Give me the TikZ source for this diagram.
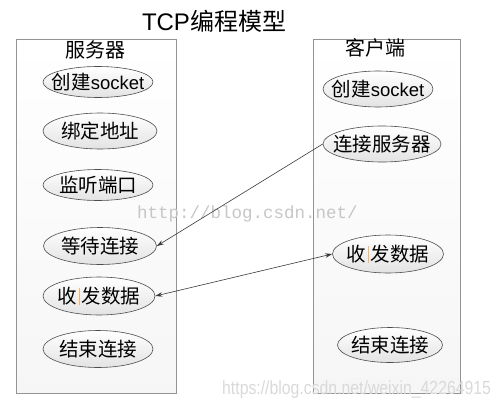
\documentclass[tikz,border=0pt]{standalone}
\usepackage{fontspec}
\setmainfont{Liberation Sans}
\newfontfamily\cjk{Noto Sans CJK SC}
\newfontfamily\wmmono{Liberation Mono}
\usetikzlibrary{shapes.geometric,arrows.meta}
\newcommand\zc[1]{\makebox[0pt]{#1}}
\newcommand\sepbar{\hspace{2pt}\textcolor{orange!60}{\rule[-2pt]{0.8pt}{17pt}}\hspace{2pt}}
\begin{document}
\begin{tikzpicture}[x=1pt,y=-1pt,
  >={Stealth[length=7pt,width=4.5pt]},
  ell/.style={ellipse, draw=gray!60!black, top color=white, bottom color=gray!22,
    inner sep=0pt, line width=0.6pt, font=\fontsize{19.5}{21}\selectfont\cjk},
  panel/.style={draw=gray!85, line width=0.9pt, top color=white, bottom color=gray!7},
  head/.style={font=\fontsize{20}{22}\selectfont\cjk},
  conn/.style={draw=gray!45!black, line width=0.6pt},
]
\useasboundingbox (0,0) rectangle (502,409);
% title
\node[font=\fontsize{24}{26}\selectfont] (title) at (214,21) {TCP{\cjk 编程模型}};
% panels
\path[panel] (16,39) rectangle (176,393);
\path[panel] (313,39) rectangle (460,393);
\node[head] (srv) at (95,50) {服务器};
\node[head] (cli) at (375,48) {客户端};
% watermark
\node[text=gray!45, font=\wmmono\fontsize{17.5}{18}\selectfont, anchor=west, inner sep=0pt] (wm1) at (137,214) {http://blog.csdn.net/};
% server
\node[ell, minimum width=110, minimum height=31] (s1) at (98,82) {\zc{创建{\rmfamily\fontsize{18.5}{20}\selectfont socket}}};
\node[ell, minimum width=114, minimum height=36] (s2) at (100,131) {\zc{绑定地址}};
\node[ell, minimum width=110, minimum height=31] (s3) at (98,185) {\zc{监听端口}};
\node[ell, minimum width=113, minimum height=37] (s4) at (100,246) {\zc{等待连接}};
\node[ell, minimum width=112, minimum height=38] (s5) at (99,296) {\zc{收\sepbar 发数据}};
\node[ell, minimum width=110, minimum height=37] (s6) at (98,349) {\zc{结束连接}};
% client
\node[ell, minimum width=110, minimum height=36] (c1) at (378,89) {\zc{创建{\rmfamily\fontsize{18.5}{20}\selectfont socket}}};
\node[ell, minimum width=118, minimum height=36] (c2) at (382,144) {\zc{连接服务器}};
\node[ell, minimum width=111, minimum height=38] (c3) at (388,254) {\zc{收\sepbar 发数据}};
\node[ell, minimum width=105, minimum height=35] (c4) at (390,345) {\zc{结束连接}};
% connectors
\draw[conn, ->] (c2.west) -- (s4.east);
\draw[conn, <->] (s5.east) -- (c3.west);
% bottom watermark
\node[text=gray!30, font=\fontsize{15.8}{16}\selectfont, anchor=west, inner sep=0pt] (wm2) at (222,390) {\scalebox{1}[1.2]{https://blog.csdn.net/weixin\_42264915}};
\end{tikzpicture}
\end{document}
